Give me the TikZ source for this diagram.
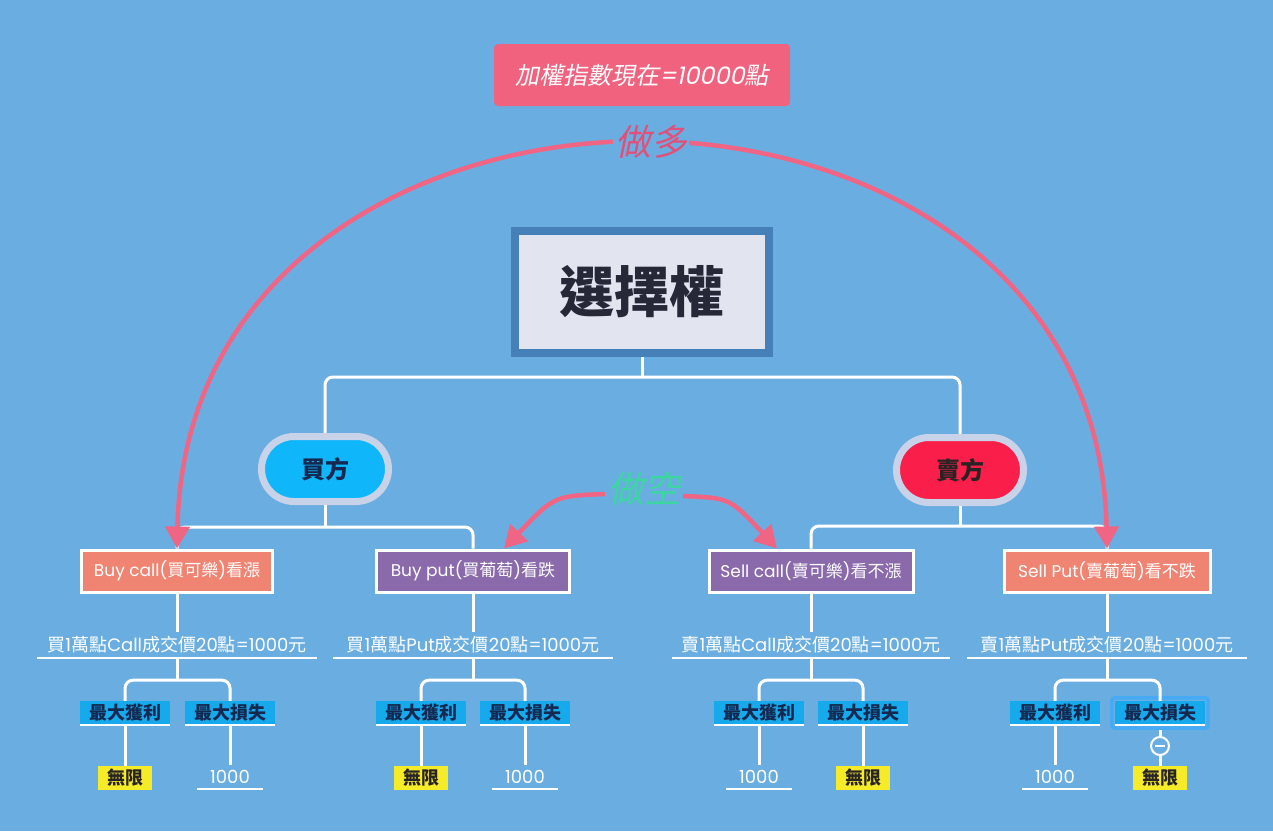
\documentclass[tikz,border=0pt]{standalone}
\usepackage{fontspec}
\setmainfont{Noto Sans CJK TC}
\newfontfamily\pop{Poppins}
\newfontfamily\popit{Poppins}[FakeSlant=0.2]
\newfontfamily\cjkit{Noto Sans CJK TC}[FakeSlant=0.2]
\usetikzlibrary{arrows.meta,calc,fit}
\definecolor{bg}{RGB}{106,174,225}
\definecolor{ttlpink}{RGB}{240,98,126}
\definecolor{arcpink}{RGB}{240,100,132}
\definecolor{longc}{RGB}{225,80,122}
\definecolor{shortc}{RGB}{60,215,160}
\definecolor{optfill}{RGB}{226,228,240}
\definecolor{optborder}{RGB}{70,128,185}
\definecolor{optt}{RGB}{38,40,56}
\definecolor{ovalb}{RGB}{200,210,232}
\definecolor{buyc}{RGB}{16,182,250}
\definecolor{sellc}{RGB}{250,30,75}
\definecolor{salm}{RGB}{240,132,115}
\definecolor{vio}{RGB}{138,106,170}
\definecolor{lblc}{RGB}{22,170,236}
\definecolor{navyt}{RGB}{20,40,80}
\definecolor{yelc}{RGB}{245,235,40}
\definecolor{darkt}{RGB}{40,36,36}
\definecolor{hlc}{RGB}{70,170,245}
\newcommand\latn[1]{{\pop #1}}
\newcommand\fs[1]{\fontsize{#1}{#1}\selectfont}
\begin{document}
\begin{tikzpicture}[x=1pt,y=-1pt,
  wline/.style={white,line width=3pt},
  parc/.style={draw=arcpink,line width=4.5pt,-{Triangle[length=22pt,width=24pt]}},
  ttl/.style={fill=ttlpink,rounded corners=4pt,minimum width=296pt,minimum height=62pt,inner sep=0,text=white,font=\fs{24}},
  optbox/.style={fill=optfill,draw=optborder,line width=8pt,minimum width=254pt,minimum height=122pt,inner sep=0,text=optt,font=\fs{55}\bfseries},
  oval/.style={draw=ovalb,line width=7pt,minimum width=127pt,minimum height=65pt,rounded corners=32.5pt,inner sep=0,font=\fs{24}\bfseries},
  obox/.style={draw=white,line width=3pt,minimum height=42pt,inner sep=0,text=white,font=\fs{17}},
  uline/.style={minimum height=26pt,inner sep=0,text=white,font=\fs{18},
    append after command={(\tikzlastnode.south west) edge[wline,line width=2.5pt] (\tikzlastnode.south east)}},
  lbl/.style={fill=lblc,minimum width=90pt,minimum height=24pt,inner sep=0,text=navyt,font=\fs{18}\bfseries,
    append after command={(\tikzlastnode.south west) edge[wline,line width=2.5pt] (\tikzlastnode.south east)}},
  yel/.style={fill=yelc,minimum width=54pt,minimum height=24pt,inner sep=0,text=darkt,font=\fs{18}\bfseries},
  num/.style={uline,minimum width=65pt,minimum height=24pt,font=\pop\fs{18}},
]
\fill[bg] (0,0) rectangle (1273,831);
\useasboundingbox (0,0) rectangle (1273,831);

% title
\node[ttl] (ttl) at (642,75) {{\cjkit 加權指數現在}{\popit =10000}{\cjkit 點}};

% main
\node[optbox] (opt) at (642,292) {選擇權};
\node[oval,fill=buyc,text=navyt] (buyer) at (325,469) {買方};
\node[oval,fill=sellc,text=darkt] (seller) at (960,470) {賣方};

% boxes
\node[obox,fill=salm,minimum width=191pt] (bc) at (177,571) {\latn{Buy call(}買可樂\latn{)}看漲};
\node[obox,fill=vio,minimum width=193pt] (bp) at (473,571) {\latn{Buy put(}買葡萄\latn{)}看跌};
\node[obox,fill=vio,minimum width=204pt] (sc) at (811,571) {\latn{Sell call(}賣可樂\latn{)}看不漲};
\node[obox,fill=salm,minimum width=206pt] (sp) at (1107,571) {\latn{Sell Put(}賣葡萄\latn{)}看不跌};

% underlined lines
\node[uline,minimum width=279pt] (u1) at (177,645) {買\latn{1}萬點\latn{Call}成交價\latn{20}點\latn{=1000}元};
\node[uline,minimum width=280pt] (u2) at (473,645) {買\latn{1}萬點\latn{Put}成交價\latn{20}點\latn{=1000}元};
\node[uline,minimum width=278pt] (u3) at (811,645) {賣\latn{1}萬點\latn{Call}成交價\latn{20}點\latn{=1000}元};
\node[uline,minimum width=279pt] (u4) at (1107,645) {賣\latn{1}萬點\latn{Put}成交價\latn{20}點\latn{=1000}元};

% labels
\node[lbl] (g1) at (125,713) {最大獲利};
\node[lbl] (s1) at (230,713) {最大損失};
\node[lbl] (g2) at (421,713) {最大獲利};
\node[lbl] (s2) at (525,713) {最大損失};
\node[lbl] (g3) at (759,713) {最大獲利};
\node[lbl] (s3) at (863,713) {最大損失};
\node[lbl] (g4) at (1055,713) {最大獲利};
\node[lbl] (s4) at (1160,713) {最大損失};

% results
\node[yel] (y1) at (125,778) {無限};
\node[num] (n1) at (230,777) {1000};
\node[yel] (y2) at (421,778) {無限};
\node[num] (n2) at (525,777) {1000};
\node[num] (n3) at (759,777) {1000};
\node[yel] (y3) at (863,778) {無限};
\node[num] (n4) at (1055,777) {1000};
\node[yel] (y4) at (1160,778) {無限};

% highlight & minus circle
\node[fit=(s4),inner sep=3pt,draw=hlc,line width=3.5pt,rounded corners=3pt] (hl) {};
\node[circle,draw=white,line width=2pt,minimum size=18pt,inner sep=0] (mn) at (1160,746) {};
\draw[white,line width=2pt] ($(mn.center)+(-5,0)$) -- ($(mn.center)+(5,0)$);

% tree connectors
\draw[wline] (opt.south) -- ++(0,20);
\draw[wline,rounded corners=8pt] (buyer.north) |- ($(opt.south)+(0,20)$) -| (seller.north);
\draw[wline] (buyer.south) -- ++(0,22);
\draw[wline,rounded corners=8pt] (bc.north) |- ($(buyer.south)+(0,22)$) -| (bp.north);
\draw[wline] (seller.south) -- ++(0,20);
\draw[wline,rounded corners=8pt] (sc.north) |- ($(seller.south)+(0,20)$) -| (sp.north);

\foreach \b/\u/\g/\s in {bc/u1/g1/s1,bp/u2/g2/s2,sc/u3/g3/s3,sp/u4/g4/s4}{
  \draw[wline] (\b.south) -- (\u.north);
  \draw[wline] (\u.south) -- ++(0,22);
  \draw[wline,rounded corners=8pt] (\g.north) |- ($(\u.south)+(0,22)$) -| (\s.north);
}
\draw[wline] (g1.south) -- (y1.north);
\draw[wline] (s1.south) -- (n1.north);
\draw[wline] (g2.south) -- (y2.north);
\draw[wline] (s2.south) -- (n2.north);
\draw[wline] (g3.south) -- (n3.north);
\draw[wline] (s3.south) -- (y3.north);
\draw[wline] (g4.south) -- (n4.north);
\draw[wline] (hl.south) -- (mn.north);
\draw[wline] (mn.south) -- (y4.north);

% long arrows
\coordinate (top) at (642,141);
\draw[parc] (top) .. controls (420,141) and (183,266) .. (bc.north);
\draw[parc] (top) .. controls (865,141) and (1101,266) .. (sp.north);
\node[fill=bg,inner sep=2pt,text=longc,font=\cjkit\fs{36}] (long) at (651,142) {做多};

% short arrows
\node[inner sep=1pt,text=shortc,font=\cjkit\fs{36}] (short) at (644,489) {做空};
\draw[parc] ($(short.west)+(-2,5)$) .. controls (554,496) .. ($(bp.north)+(31,0)$);
\draw[parc] ($(short.east)+(2,7)$) .. controls (730,498) .. ($(sc.north)+(-34,0)$);
\end{tikzpicture}
\end{document}
